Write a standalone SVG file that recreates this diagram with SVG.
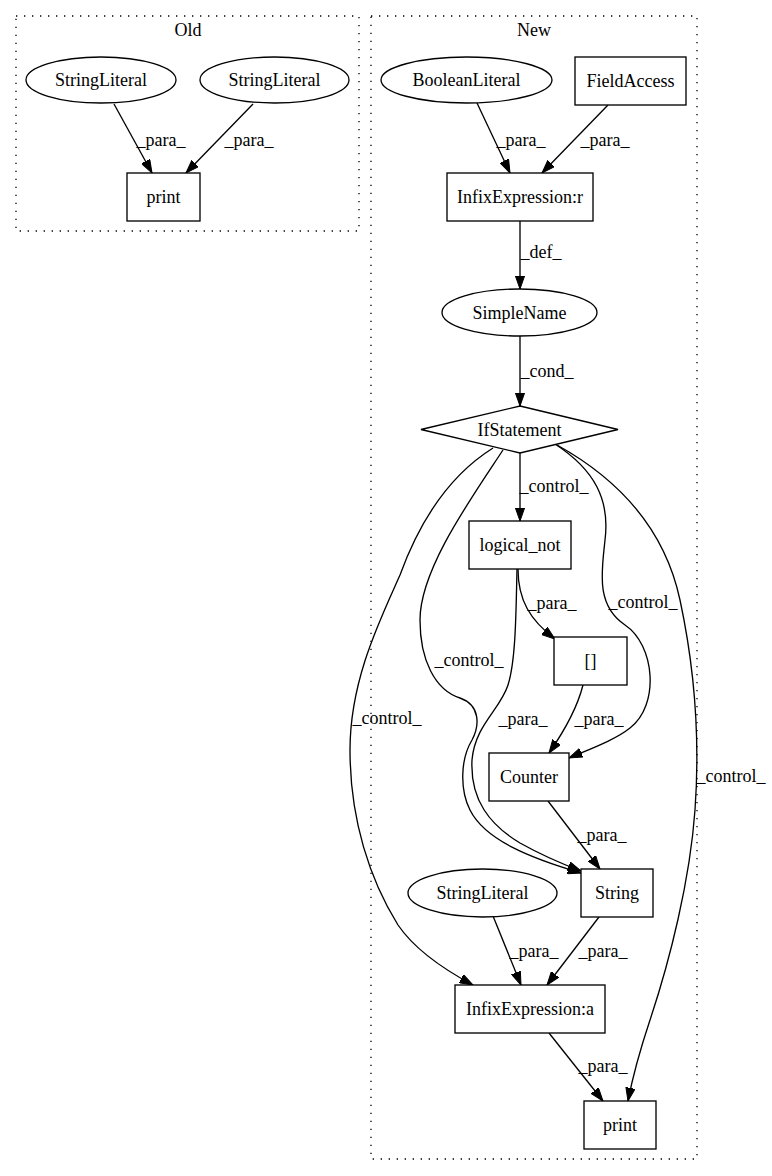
<svg xmlns="http://www.w3.org/2000/svg" width="772" height="1176" viewBox="0 0 772 1176">
<style>
text{font-family:"Liberation Serif","Times New Roman",serif;font-size:18px;text-anchor:middle;fill:#000}
.n{fill:#fff;stroke:#000;stroke-width:1.33}
.c{fill:none;stroke:#000;stroke-width:1.33;stroke-dasharray:1.33,6.67}
.e{fill:none;stroke:#000;stroke-width:1.33;marker-end:url(#ah)}
</style>
<defs>
<marker id="ah" markerUnits="userSpaceOnUse" viewBox="0 0 14 10" markerWidth="14" markerHeight="10" refX="13.3" refY="5" orient="auto">
<path d="M0,0.3 L13.3,5 L0,9.7 Z" fill="#000" stroke="#000" stroke-width="1"/>
</marker>
</defs>
<rect width="772" height="1176" fill="#fff"/>
<g id="clusters">
<rect class="c" x="16" y="16" width="343" height="215"/>
<text x="188" y="36">Old</text>
<rect class="c" x="371" y="16" width="326" height="1143"/>
<text x="534" y="36">New</text>
</g>
<g id="connectors">
<path class="e" d="M114,104 L152,173"/>
<text x="161" y="146">_para_</text>
<path class="e" d="M253,104 L186,173"/>
<text x="249" y="146">_para_</text>
<path class="e" d="M477,103 L510,173"/>
<text x="521" y="146">_para_</text>
<path class="e" d="M608,105 L542,173"/>
<text x="605" y="146">_para_</text>
<path class="e" d="M520,221 L520,289"/>
<text x="541" y="258">_def_</text>
<path class="e" d="M520,336 L520,406"/>
<text x="547" y="377">_cond_</text>
<path class="e" d="M520,453 L520,521"/>
<text x="554" y="492">_control_</text>
<path class="e" d="M518,569 C518,600 530,620 555,639"/>
<text x="552" y="609">_para_</text>
<path class="e" d="M555,444 C595,470 610,500 605,540 C602,570 595,605 625,625 C655,645 660,705 630,728 C615,740 590,749 569,758"/>
<text x="643" y="608">_control_</text>
<path class="e" d="M503,450 C470,500 420,570 420,620 C420,660 435,690 460,698 C480,705 480,725 472,740 C460,760 460,790 470,810 C485,840 530,858 581,873"/>
<text x="469" y="666">_control_</text>
<path class="e" d="M517,569 C516,610 516,660 508,685 C500,710 475,725 472,760 C470,800 490,825 520,843 C545,857 565,865 581,871"/>
<text x="523" y="725">_para_</text>
<path class="e" d="M493,448 C450,475 420,520 400,575 C380,620 350,680 350,750 C350,820 370,880 398,925 C415,950 445,970 473,985"/>
<text x="387" y="724">_control_</text>
<path class="e" d="M583,685 C578,705 565,730 549,753"/>
<text x="599" y="725">_para_</text>
<path class="e" d="M557,445 C620,480 665,530 680,600 C695,670 700,740 695,810 C690,880 670,960 650,1020 C640,1050 633,1075 628,1101"/>
<text x="731" y="782">_control_</text>
<path class="e" d="M548,801 L600,869"/>
<text x="602" y="841">_para_</text>
<path class="e" d="M493,916 L521,985"/>
<text x="534" y="957">_para_</text>
<path class="e" d="M599,917 L547,985"/>
<text x="603" y="957">_para_</text>
<path class="e" d="M549,1033 L603,1101"/>
<text x="603" y="1072">_para_</text>
</g>
<g id="old_stringliteral1"><ellipse class="n" cx="101" cy="80" rx="75" ry="23"/><text x="101" y="86">StringLiteral</text></g>
<g id="old_stringliteral2"><ellipse class="n" cx="274.5" cy="80" rx="74.5" ry="23"/><text x="274.5" y="86">StringLiteral</text></g>
<g id="old_print"><rect class="n" x="127" y="173" width="73" height="48"/><text x="163.5" y="203">print</text></g>
<g id="booleanliteral"><ellipse class="n" cx="466.5" cy="80" rx="85.5" ry="23"/><text x="466.5" y="86">BooleanLiteral</text></g>
<g id="fieldaccess"><rect class="n" x="575" y="57" width="111" height="48"/><text x="630.5" y="87">FieldAccess</text></g>
<g id="infixexpression_r"><rect class="n" x="447" y="173" width="146" height="48"/><text x="520" y="203">InfixExpression:r</text></g>
<g id="simplename"><ellipse class="n" cx="519.5" cy="312.5" rx="77.5" ry="23.5"/><text x="519.5" y="318.5">SimpleName</text></g>
<g id="ifstatement"><polygon class="n" points="520,406 618,429.5 520,453 421,429.5"/><text x="519.5" y="435.5">IfStatement</text></g>
<g id="logical_not"><rect class="n" x="469" y="521" width="102" height="48"/><text x="520" y="551">logical_not</text></g>
<g id="brackets"><rect class="n" x="554" y="637" width="73" height="48"/><text x="590.5" y="667">[]</text></g>
<g id="counter"><rect class="n" x="489" y="753" width="80" height="48"/><text x="529" y="783">Counter</text></g>
<g id="string"><rect class="n" x="581" y="869" width="72" height="48"/><text x="617" y="899">String</text></g>
<g id="new_stringliteral"><ellipse class="n" cx="482.5" cy="893" rx="74.5" ry="24"/><text x="482.5" y="899">StringLiteral</text></g>
<g id="infixexpression_a"><rect class="n" x="455" y="985" width="150" height="48"/><text x="530" y="1015">InfixExpression:a</text></g>
<g id="new_print"><rect class="n" x="584" y="1101" width="72" height="48"/><text x="620" y="1131">print</text></g>
</svg>
